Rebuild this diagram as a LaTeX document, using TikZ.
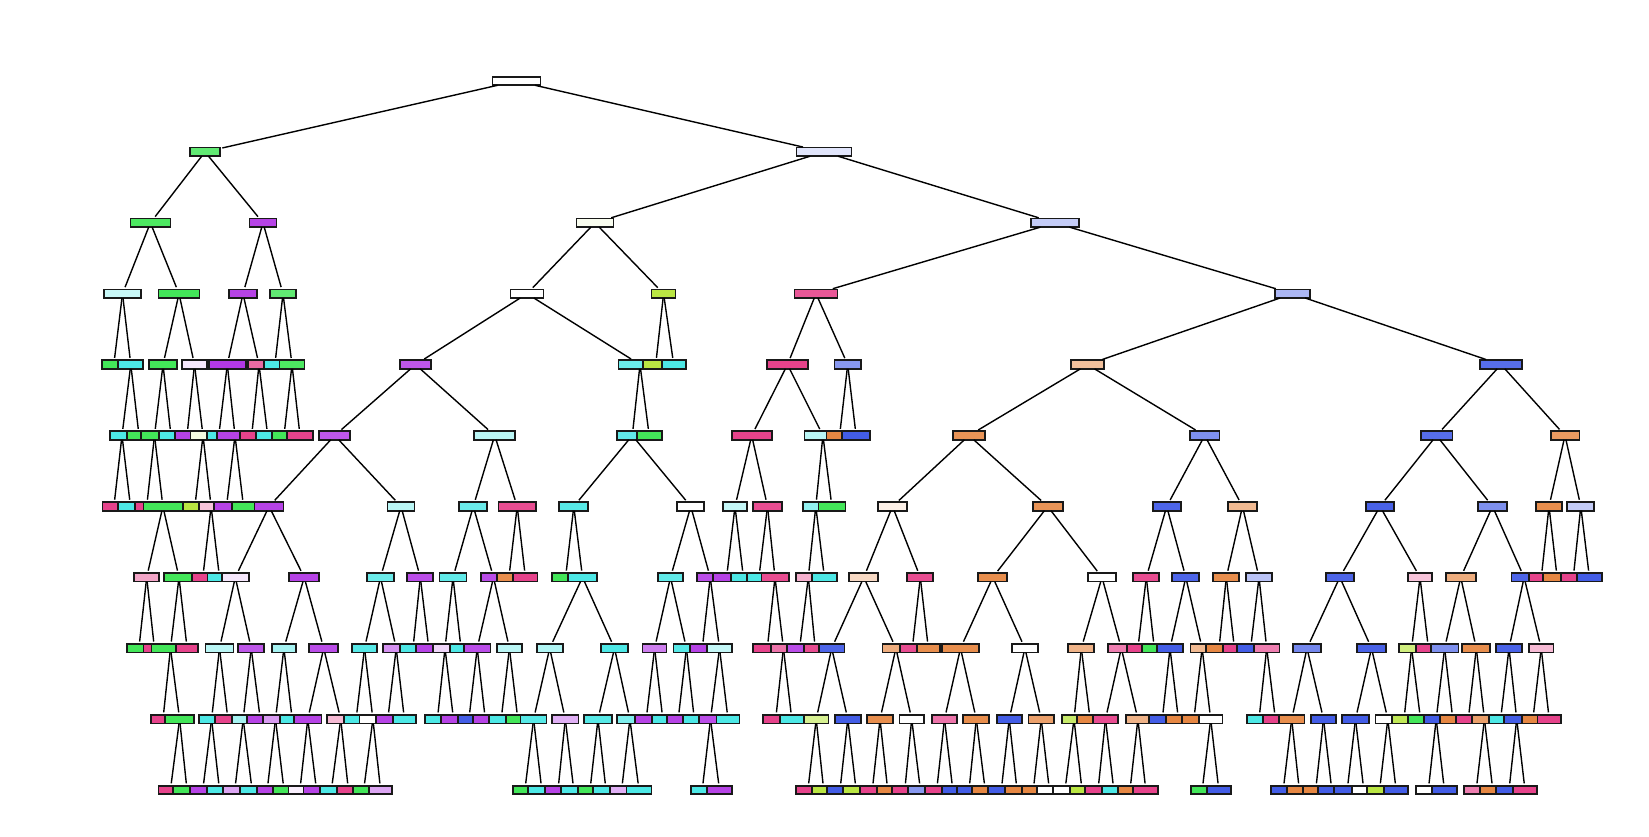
\documentclass[tikz,border=0pt]{standalone}
\definecolor{C0}{HTML}{E58139}
\definecolor{C1}{HTML}{B6E539}
\definecolor{C2}{HTML}{39E550}
\definecolor{C3}{HTML}{39E5E3}
\definecolor{C4}{HTML}{3954E5}
\definecolor{C5}{HTML}{B239E5}
\definecolor{C6}{HTML}{E53985}
\newcommand\mknode[6]{%
  \node[tbox, minimum width={#5*0.5pt}, fill=#6] (#1) at (#3,{81+70.9*#4}) {};
  \draw[tedge] (#2) -- (#1);}
\begin{document}
\begin{tikzpicture}[x=0.5pt,y=-0.5pt,
  tbox/.style={draw=black!90, line width=0.85pt, minimum height=4.3pt, inner sep=0pt, outer sep=0pt, rectangle},
  tedge/.style={line width=0.7pt, shorten >=1.2pt}]
\useasboundingbox (0,0) rectangle (1649,836);
\node[tbox, minimum width=24pt, fill=white] (r) at (516.4,81) {};
% level 1
\mknode{rL}{r}{205}{1}{30}{C2!80}
\mknode{rR}{r}{824}{1}{55}{C4!15}
% level 2
\mknode{rLL}{rL}{150.4}{2}{40}{C2!90}
\mknode{rLR}{rL}{263}{2}{27}{C5!95}
\mknode{rRL}{rR}{595}{2}{37}{C1!8}
\mknode{rRR}{rR}{1055}{2}{48}{C4!30}
% level 3
\mknode{rLLL}{rLL}{122.5}{3}{37}{C3!28}
\mknode{rLLR}{rLL}{179}{3}{41}{C2!95}
\mknode{rLRL}{rLR}{243}{3}{28}{C5!95}
\mknode{rLRR}{rLR}{283}{3}{26}{C2!80}
\mknode{rRLL}{rRL}{527}{3}{33}{white}
\mknode{rRLR}{rRL}{663.6}{3}{24}{C1!95}
\mknode{rRRL}{rRR}{816}{3}{43}{C6!85}
\mknode{rRRR}{rRR}{1292.5}{3}{35}{C4!42}
% level 4
\mknode{rLLLL}{rLLL}{113.8}{4}{24}{C2!95}
\mknode{rLLLR}{rLLL}{130.8}{4}{25}{C3!90}
\mknode{rLLRL}{rLLR}{163}{4}{28.6}{C2!95}
\mknode{rLLRR}{rLLR}{194.5}{4}{25}{C5!12}
\mknode{rLRLL}{rLRL}{227.3}{4}{37}{C5!100}
\mknode{rLRLR}{rLRL}{259}{4}{22}{C6!75}
\mknode{rLRRL}{rLRR}{274.9}{4}{22}{C3!90}
\mknode{rLRRR}{rLRR}{292}{4}{25}{C2!90}
\mknode{rRLLL}{rRLL}{415.5}{4}{31}{C5!85}
\mknode{rRLLR}{rRLL}{640}{4}{43}{C3!75}
\mknode{rRLRL}{rRLR}{655.7}{4}{25}{C1!95}
\mknode{rRLRR}{rRLR}{673.7}{4}{24}{C3!90}
\mknode{rRRLL}{rRRL}{787.5}{4}{41.6}{C6!95}
\mknode{rRRLR}{rRRL}{847.7}{4}{26.7}{C4!60}
\mknode{rRRRL}{rRRR}{1087.5}{4}{33.6}{C0!50}
\mknode{rRRRR}{rRRR}{1501}{4}{42}{C4!85}
% level 5
\mknode{rLLLRL}{rLLLR}{122}{5}{24}{C3!90}
\mknode{rLLLRR}{rLLLR}{139}{5}{24}{C2!95}
\mknode{rLLRLL}{rLLRL}{154.5}{5}{27.6}{C2!95}
\mknode{rLLRLR}{rLLRL}{171}{5}{24}{C3!90}
\mknode{rLLRRL}{rLLRR}{187}{5}{24}{C5!95}
\mknode{rLLRRR}{rLLRR}{203}{5}{25}{C1!15}
\mknode{rLRLLL}{rLRLL}{218.8}{5}{24}{C3!90}
\mknode{rLRLLR}{rLRLL}{235}{5}{36.6}{C5!95}
\mknode{rLRLRL}{rLRLR}{251.7}{5}{23.4}{C6!95}
\mknode{rLRLRR}{rLRLR}{267.7}{5}{23.4}{C3!90}
\mknode{rLRRRL}{rLRRR}{284}{5}{24.6}{C2!95}
\mknode{rLRRRR}{rLRRR}{300}{5}{25.6}{C6!95}
\mknode{rRLLLL}{rRLLL}{334.7}{5}{31}{C5!85}
\mknode{rRLLLR}{rRLLL}{494.7}{5}{41}{C3!35}
\mknode{rRLLRL}{rRLLR}{632.3}{5}{31}{C3!80}
\mknode{rRLLRR}{rRLLR}{649.2}{5}{25}{C2!95}
\mknode{rRRLLL}{rRRLL}{751.7}{5}{40}{C6!95}
\mknode{rRRLLR}{rRRLL}{822.9}{5}{37}{C3!35}
\mknode{rRRLRL}{rRRLR}{839.6}{5}{26}{C0!95}
\mknode{rRRLRR}{rRRLR}{856.1}{5}{27.6}{C4!95}
\mknode{rRRRLL}{rRRRL}{969}{5}{32}{C0!85}
\mknode{rRRRLR}{rRRRL}{1204.7}{5}{29.3}{C4!65}
\mknode{rRRRRL}{rRRRR}{1436.5}{5}{31.7}{C4!85}
\mknode{rRRRRR}{rRRRR}{1565}{5}{28.7}{C0!80}
% level 6
\mknode{rLLLRLL}{rLLLRL}{113.9}{6}{23}{C6!95}
\mknode{rLLLRLR}{rLLLRL}{130.5}{6}{24.4}{C3!90}
\mknode{rLLRLLL}{rLLRLL}{146.7}{6}{23.4}{C6!95}
\mknode{rLLRLLR}{rLLRLL}{162.9}{6}{39}{C2!95}
\mknode{rLLRRRL}{rLLRRR}{194.9}{6}{23}{C1!95}
\mknode{rLLRRRR}{rLLRRR}{211.1}{6}{24}{C6!30}
\mknode{rLRLLRL}{rLRLLR}{226.5}{6}{25}{C5!95}
\mknode{rLRLLRR}{rLRLLR}{243.5}{6}{23}{C2!95}
\mknode{rRLLLLL}{rRLLLL}{269.1}{6}{29}{C5!95}
\mknode{rRLLLLR}{rRLLLL}{401}{6}{27}{C3!35}
\mknode{rRLLLRL}{rRLLLR}{473.3}{6}{28}{C3!75}
\mknode{rRLLLRR}{rRLLLR}{517.2}{6}{37.7}{C6!90}
\mknode{rRLLRLL}{rRLLRL}{573.8}{6}{29}{C3!85}
\mknode{rRLLRLR}{rRLLRL}{690.8}{6}{27}{white}
\mknode{rRRLLLL}{rRRLLL}{735}{6}{24.6}{C3!30}
\mknode{rRRLLLR}{rRRLLL}{767.5}{6}{28.4}{C6!90}
\mknode{rRRLLRL}{rRRLLR}{815.8}{6}{26}{C3!55}
\mknode{rRRLLRR}{rRRLLR}{831.9}{6}{27}{C2!95}
\mknode{rRRRLLL}{rRRRLL}{892.5}{6}{28.4}{C0!12}
\mknode{rRRRLLR}{rRRRLL}{1047.7}{6}{30}{C0!85}
\mknode{rRRRLRL}{rRRRLR}{1166.7}{6}{28}{C4!90}
\mknode{rRRRLRR}{rRRRLR}{1242.5}{6}{28.4}{C0!55}
\mknode{rRRRRLL}{rRRRRL}{1380}{6}{28.6}{C4!92}
\mknode{rRRRRLR}{rRRRRL}{1492.5}{6}{29.6}{C4!65}
\mknode{rRRRRRL}{rRRRRR}{1549}{6}{26.6}{C0!90}
\mknode{rRRRRRR}{rRRRRR}{1580.8}{6}{27}{C4!30}
% level 7
\mknode{rLLRLLRL}{rLLRLLR}{146.7}{7}{25}{C6!45}
\mknode{rLLRLLRR}{rLLRLLR}{179}{7}{30}{C2!95}
\mknode{rLLRRRRL}{rLLRRRR}{202.8}{7}{22}{C6!95}
\mknode{rLLRRRRR}{rLLRRRR}{219.5}{7}{24}{C3!90}
\mknode{rRLLLLLL}{rRLLLLL}{235.3}{7}{27}{C5!12}
\mknode{rRLLLLLR}{rRLLLLL}{304.2}{7}{30}{C5!95}
\mknode{rRLLLLRL}{rRLLLLR}{380.5}{7}{27.6}{C3!75}
\mknode{rRLLLLRR}{rRLLLLR}{420.3}{7}{26}{C5!90}
\mknode{rRLLLRLL}{rRLLLRL}{453}{7}{27}{C3!80}
\mknode{rRLLLRLR}{rRLLLRL}{493.5}{7}{25.6}{C5!90}
\mknode{rRLLLRRL}{rRLLLRR}{508.9}{7}{24.4}{C0!90}
\mknode{rRLLLRRR}{rRLLLRR}{525.4}{7}{24.2}{C6!95}
\mknode{rRLLRLLL}{rRLLRLL}{565.6}{7}{26.6}{C2!95}
\mknode{rRLLRLLR}{rRLLRLL}{582.5}{7}{28.4}{C3!90}
\mknode{rRLLRLRL}{rRLLRLR}{670.5}{7}{25.6}{C3!80}
\mknode{rRLLRLRR}{rRLLRLR}{710.2}{7}{26}{C5!90}
\mknode{rRRLLLLL}{rRRLLLL}{726.6}{7}{26.6}{C5!95}
\mknode{rRRLLLLR}{rRRLLLL}{743.4}{7}{25.4}{C3!90}
\mknode{rRRLLLRL}{rRRLLLR}{758.9}{7}{23.2}{C3!90}
\mknode{rRRLLLRR}{rRRLLLR}{775}{7}{27.3}{C6!90}
\mknode{rRRLLRLL}{rRRLLRL}{808.3}{7}{25.2}{C6!40}
\mknode{rRRLLRLR}{rRRLLRL}{824.4}{7}{25.4}{C3!90}
\mknode{rRRRLLLL}{rRRRLLL}{863.8}{7}{29}{C0!30}
\mknode{rRRRLLLR}{rRRRLLL}{920.3}{7}{26}{C6!90}
\mknode{rRRRLLRL}{rRRRLLR}{992.8}{7}{29}{C0!90}
\mknode{rRRRLLRR}{rRRRLLR}{1102}{7}{27.4}{white}
\mknode{rRRRLRLL}{rRRRLRL}{1146.3}{7}{26}{C6!90}
\mknode{rRRRLRLR}{rRRRLRL}{1185.8}{7}{27}{C4!90}
\mknode{rRRRLRRL}{rRRRLRR}{1226.3}{7}{26}{C0!90}
\mknode{rRRRLRRR}{rRRRLRR}{1259}{7}{26.6}{C4!35}
\mknode{rRRRRLLL}{rRRRRLL}{1339.8}{7}{28}{C4!90}
\mknode{rRRRRLLR}{rRRRRLL}{1420}{7}{24.6}{C6!30}
\mknode{rRRRRLRL}{rRRRRLR}{1460.7}{7}{30}{C0!65}
\mknode{rRRRRLRR}{rRRRRLR}{1524.1}{7}{25}{C4!90}
\mknode{rRRRRRLL}{rRRRRRL}{1541.3}{7}{24.6}{C6!95}
\mknode{rRRRRRLR}{rRRRRRL}{1557.1}{7}{27.6}{C0!95}
\mknode{rRRRRRRL}{rRRRRRR}{1573.3}{7}{25}{C6!95}
\mknode{rRRRRRRR}{rRRRRRR}{1589.4}{7}{25.4}{C4!95}
% level 8
\mknode{rLLRLLRLL}{rLLRLLRL}{138.9}{8}{24.4}{C2!95}
\mknode{rLLRLLRLR}{rLLRLLRL}{154.4}{8}{22}{C6!95}
\mknode{rLLRLLRRL}{rLLRLLRR}{170.5}{8}{38}{C2!95}
\mknode{rLLRLLRRR}{rLLRLLRR}{187.1}{8}{22}{C6!95}
\mknode{rRLLLLLLL}{rRLLLLLL}{219.5}{8}{28}{C3!35}
\mknode{rRLLLLLLR}{rRLLLLLL}{251.2}{8}{26}{C5!85}
\mknode{rRLLLLLRL}{rRLLLLLR}{283.9}{8}{24.4}{C3!45}
\mknode{rRLLLLLRR}{rRLLLLLR}{323.7}{8}{29}{C5!90}
\mknode{rRLLLLRLL}{rRLLLLRL}{364.5}{8}{25.6}{C3!85}
\mknode{rRLLLLRLR}{rRLLLLRL}{396.2}{8}{26}{C5!55}
\mknode{rRLLLLRRL}{rRLLLLRR}{413}{8}{26}{C3!90}
\mknode{rRLLLLRRR}{rRLLLLRR}{428.8}{8}{25.6}{C5!95}
\mknode{rRLLLRLLL}{rRLLLRLL}{445}{8}{24.6}{C5!20}
\mknode{rRLLLRLLR}{rRLLLRLL}{461}{8}{22}{C3!90}
\mknode{rRLLLRLRL}{rRLLLRLR}{477.2}{8}{26.4}{C5!90}
\mknode{rRLLLRLRR}{rRLLLRLR}{509.4}{8}{25.4}{C3!35}
\mknode{rRLLRLLRL}{rRLLRLLR}{549.7}{8}{26}{C3!40}
\mknode{rRLLRLLRR}{rRLLRLLR}{614.5}{8}{27.6}{C3!90}
\mknode{rRLLRLRLL}{rRLLRLRL}{654.6}{8}{24}{C5!65}
\mknode{rRLLRLRLR}{rRLLRLRL}{686.4}{8}{26}{C3!85}
\mknode{rRLLRLRRL}{rRLLRLRR}{702.3}{8}{24.6}{C5!95}
\mknode{rRLLRLRRR}{rRLLRLRR}{719.5}{8}{25.6}{C3!30}
\mknode{rRRLLLRRL}{rRRLLLRR}{767.3}{8}{28}{C6!95}
\mknode{rRRLLLRRR}{rRRLLLRR}{783.4}{8}{25.4}{C6!70}
\mknode{rRRLLRLLL}{rRRLLRLL}{799.6}{8}{24.6}{C5!90}
\mknode{rRRLLRLLR}{rRRLLRLL}{815.2}{8}{22.4}{C6!90}
\mknode{rRRRLLLLL}{rRRRLLLL}{831.7}{8}{25.3}{C4!90}
\mknode{rRRRLLLLR}{rRRRLLLL}{895.9}{8}{27}{C0!65}
\mknode{rRRRLLLRL}{rRRRLLLR}{912.3}{8}{24.6}{C6!90}
\mknode{rRRRLLLRR}{rRRRLLLR}{928.3}{8}{23.2}{C0!90}
\mknode{rRRRLLRLL}{rRRRLLRL}{960.5}{8}{37.6}{C0!90}
\mknode{rRRRLLRLR}{rRRRLLRL}{1024.9}{8}{26.4}{white}
\mknode{rRRRLLRRL}{rRRRLLRR}{1081.3}{8}{26}{C0!60}
\mknode{rRRRLLRRR}{rRRRLLRR}{1121.3}{8}{26}{C6!65}
\mknode{rRRRLRLLL}{rRRRLRLL}{1137.9}{8}{22.4}{C6!95}
\mknode{rRRRLRLLR}{rRRRLRLL}{1154.3}{8}{25}{C2!95}
\mknode{rRRRLRLRL}{rRRRLRLR}{1170}{8}{26.6}{C4!95}
\mknode{rRRRLRLRR}{rRRRLRLR}{1202.1}{8}{23}{C0!55}
\mknode{rRRRLRRLL}{rRRRLRRL}{1219}{8}{26}{C0!95}
\mknode{rRRRLRRLR}{rRRRLRRL}{1234.4}{8}{23.4}{C6!95}
\mknode{rRRRLRRRL}{rRRRLRRR}{1250.6}{8}{26.6}{C4!95}
\mknode{rRRRLRRRR}{rRRRLRRR}{1266.7}{8}{25.3}{C6!65}
\mknode{rRRRRLLLL}{rRRRRLLL}{1307}{8}{27.4}{C4!70}
\mknode{rRRRRLLLR}{rRRRRLLL}{1371.5}{8}{28.4}{C4!92}
\mknode{rRRRRLLRL}{rRRRRLLR}{1411.6}{8}{24.6}{C1!65}
\mknode{rRRRRLLRR}{rRRRRLLR}{1428.4}{8}{24.8}{C6!95}
\mknode{rRRRRLRLL}{rRRRRLRL}{1444.6}{8}{27.8}{C4!65}
\mknode{rRRRRLRLR}{rRRRRLRL}{1476.3}{8}{28}{C0!90}
\mknode{rRRRRLRRL}{rRRRRLRR}{1509}{8}{26.6}{C4!92}
\mknode{rRRRRLRRR}{rRRRRLRR}{1541.2}{8}{24.4}{C6!35}
% level 9
\mknode{rLLRLLRRLL}{rLLRLLRRL}{163}{9}{24}{C6!95}
\mknode{rLLRLLRRLR}{rLLRLLRRL}{179.6}{9}{29}{C2!95}
\mknode{rRLLLLLLLL}{rRLLLLLLL}{211.6}{9}{25}{C3!90}
\mknode{rRLLLLLLLR}{rRLLLLLLL}{227.9}{9}{26}{C6!95}
\mknode{rRLLLLLLRL}{rRLLLLLLR}{243.2}{9}{23}{C3!45}
\mknode{rRLLLLLLRR}{rRLLLLLLR}{260.3}{9}{26}{C5!95}
\mknode{rRLLLLLRLL}{rRLLLLLRL}{275.5}{9}{24.4}{C5!50}
\mknode{rRLLLLLRLR}{rRLLLLLRL}{292.2}{9}{24.4}{C3!90}
\mknode{rRLLLLLRRL}{rRLLLLLRR}{307.8}{9}{27.6}{C5!95}
\mknode{rRLLLLLRRR}{rRLLLLLRR}{340.7}{9}{27}{C6!35}
\mknode{rRLLLLRLLL}{rRLLLLRLL}{356.1}{9}{24}{C3!90}
\mknode{rRLLLLRLLR}{rRLLLLRLL}{372.9}{9}{27}{white}
\mknode{rRLLLLRLRL}{rRLLLLRLR}{387.8}{9}{23.6}{C5!95}
\mknode{rRLLLLRLRR}{rRLLLLRLR}{404.4}{9}{23.4}{C3!90}
\mknode{rRLLLRLLLL}{rRLLLRLLL}{437.4}{9}{24.8}{C3!90}
\mknode{rRLLLRLLLR}{rRLLLRLLL}{453.5}{9}{25}{C5!95}
\mknode{rRLLLRLRLL}{rRLLLRLRL}{468.9}{9}{22.4}{C4!95}
\mknode{rRLLLRLRLR}{rRLLLRLRL}{485.3}{9}{24}{C5!95}
\mknode{rRLLLRLRRL}{rRLLLRLRR}{501.2}{9}{24.4}{C3!90}
\mknode{rRLLLRLRRR}{rRLLLRLRR}{517.8}{9}{23.6}{C2!95}
\mknode{rRLLRLLRLL}{rRLLRLLRL}{533.6}{9}{26}{C3!85}
\mknode{rRLLRLLRLR}{rRLLRLLRL}{565.3}{9}{26.6}{C5!40}
\mknode{rRLLRLLRRL}{rRLLRLLRR}{598}{9}{27.4}{C3!85}
\mknode{rRLLRLLRRR}{rRLLRLLRR}{629.9}{9}{26.4}{C3!65}
\mknode{rRLLRLRLLL}{rRLLRLRLL}{646.2}{9}{22.4}{C5!95}
\mknode{rRLLRLRLLR}{rRLLRLRLL}{662.8}{9}{22.2}{C3!90}
\mknode{rRLLRLRLRL}{rRLLRLRLR}{678.2}{9}{23}{C5!95}
\mknode{rRLLRLRLRR}{rRLLRLRLR}{694.3}{9}{23.2}{C3!90}
\mknode{rRLLRLRRRL}{rRLLRLRRR}{710.5}{9}{22.4}{C5!90}
\mknode{rRLLRLRRRR}{rRLLRLRRR}{728}{9}{23}{C3!90}
\mknode{rRRLLLRRRL}{rRRLLLRRR}{775.7}{9}{26}{C6!95}
\mknode{rRRLLLRRRR}{rRRLLLRRR}{791.8}{9}{23.6}{C3!90}
\mknode{rRRRLLLLLL}{rRRRLLLLL}{816.2}{9}{24.3}{C1!55}
\mknode{rRRRLLLLLR}{rRRRLLLLL}{847.8}{9}{25.7}{C4!95}
\mknode{rRRRLLLLRL}{rRRRLLLLR}{880}{9}{26.6}{C0!90}
\mknode{rRRRLLLLRR}{rRRRLLLLR}{911.7}{9}{24.7}{white}
\mknode{rRRRLLRLLL}{rRRRLLRLL}{944.5}{9}{24.4}{C6!70}
\mknode{rRRRLLRLLR}{rRRRLLRLL}{976.3}{9}{26}{C0!90}
\mknode{rRRRLLRLRL}{rRRRLLRLR}{1009.2}{9}{25}{C4!95}
\mknode{rRRRLLRLRR}{rRRRLLRLR}{1041.2}{9}{25.7}{C0!75}
\mknode{rRRRLLRRLL}{rRRRLLRRL}{1074}{9}{24.6}{C1!75}
\mknode{rRRRLLRRLR}{rRRRLLRRL}{1090.1}{9}{25.6}{C0!95}
\mknode{rRRRLLRRRL}{rRRRLLRRR}{1105.5}{9}{25.6}{C6!90}
\mknode{rRRRLLRRRR}{rRRRLLRRR}{1137.9}{9}{24.3}{C0!60}
\mknode{rRRRLRLRLL}{rRRRLRLRL}{1162.3}{9}{26}{C4!95}
\mknode{rRRRLRLRLR}{rRRRLRLRL}{1178.4}{9}{25.4}{C0!95}
\mknode{rRRRLRLRRL}{rRRRLRLRR}{1193.9}{9}{24.4}{C0!95}
\mknode{rRRRLRLRRR}{rRRRLRLRR}{1210.7}{9}{23.3}{white}
\mknode{rRRRLRRRRL}{rRRRLRRRR}{1259}{9}{24.6}{C3!90}
\mknode{rRRRLRRRRR}{rRRRLRRRR}{1275.4}{9}{24.2}{C6!95}
\mknode{rRRRRLLLLL}{rRRRRLLLL}{1291.7}{9}{25.3}{C0!90}
\mknode{rRRRRLLLLR}{rRRRRLLLL}{1323.5}{9}{25}{C4!95}
\mknode{rRRRRLLLRL}{rRRRRLLLR}{1355.5}{9}{27.6}{C4!95}
\mknode{rRRRRLLLRR}{rRRRRLLLR}{1387.8}{9}{24.4}{white}
\mknode{rRRRRLLRLL}{rRRRRLLRL}{1404}{9}{24.6}{C1!85}
\mknode{rRRRRLLRLR}{rRRRRLLRL}{1420.5}{9}{25.6}{C2!95}
\mknode{rRRRRLRLLL}{rRRRRLRLL}{1436.2}{9}{24.4}{C4!95}
\mknode{rRRRRLRLLR}{rRRRRLRLL}{1452.8}{9}{25.6}{C0!95}
\mknode{rRRRRLRLRL}{rRRRRLRLR}{1468.3}{9}{24.6}{C6!95}
\mknode{rRRRRLRLRR}{rRRRRLRLR}{1484.4}{9}{25.4}{C0!75}
\mknode{rRRRRLRRLL}{rRRRRLRRL}{1500.6}{9}{23.2}{C3!90}
\mknode{rRRRRLRRLR}{rRRRRLRRL}{1516.7}{9}{25.4}{C4!95}
\mknode{rRRRRLRRRL}{rRRRRLRRR}{1532.9}{9}{22.4}{C0!95}
\mknode{rRRRRLRRRR}{rRRRRLRRR}{1549.2}{9}{23.7}{C6!95}
% level 10
\mknode{rLLRLLRRLRL}{rLLRLLRRLR}{170.4}{10}{24}{C6!95}
\mknode{rLLRLLRRLRR}{rLLRLLRRLR}{187}{10}{28.6}{C2!95}
\mknode{rRLLLLLLLLL}{rRLLLLLLLL}{202.8}{10}{25.6}{C5!95}
\mknode{rRLLLLLLLLR}{rRLLLLLLLL}{219.5}{10}{25.6}{C3!90}
\mknode{rRLLLLLLRLL}{rRLLLLLLRL}{234.8}{10}{23}{C5!45}
\mknode{rRLLLLLLRLR}{rRLLLLLLRL}{252.1}{10}{24}{C3!90}
\mknode{rRLLLLLRLLL}{rRLLLLLRLL}{267.2}{10}{21}{C5!95}
\mknode{rRLLLLLRLLR}{rRLLLLLRLL}{284}{10}{22.6}{C2!95}
\mknode{rRLLLLLRRLL}{rRLLLLLRRL}{299.9}{10}{23}{C5!8}
\mknode{rRLLLLLRRLR}{rRLLLLLRRL}{316.5}{10}{26}{C5!95}
\mknode{rRLLLLLRRRL}{rRLLLLLRRR}{331.4}{10}{23}{C3!90}
\mknode{rRLLLLLRRRR}{rRLLLLLRRR}{348.4}{10}{23.4}{C6!95}
\mknode{rRLLLLRLLRL}{rRLLLLRLLR}{363.7}{10}{21}{C2!95}
\mknode{rRLLLLRLLRR}{rRLLLLRLLR}{380.6}{10}{22.6}{C5!45}
\mknode{rRLLRLLRLLL}{rRLLRLLRLL}{524.9}{10}{23.2}{C2!95}
\mknode{rRLLRLLRLLR}{rRLLRLLRLL}{541.8}{10}{27}{C3!90}
\mknode{rRLLRLLRLRL}{rRLLRLLRLR}{558}{10}{26}{C5!95}
\mknode{rRLLRLLRLRR}{rRLLRLLRLR}{573.8}{10}{26.2}{C3!90}
\mknode{rRLLRLLRRLL}{rRLLRLLRRL}{590}{10}{24.6}{C2!95}
\mknode{rRLLRLLRRLR}{rRLLRLLRRL}{606}{10}{26}{C3!90}
\mknode{rRLLRLLRRRL}{rRLLRLLRRR}{621.6}{10}{23}{C5!40}
\mknode{rRLLRLLRRRR}{rRLLRLLRRR}{639}{10}{25}{C3!90}
\mknode{rRLLRLRRRLL}{rRLLRLRRRL}{702.2}{10}{22.4}{C3!90}
\mknode{rRLLRLRRRLR}{rRLLRLRRRL}{719.5}{10}{25.6}{C5!95}
\mknode{rRRRLLLLLLL}{rRRRLLLLLL}{807.9}{10}{24}{C6!95}
\mknode{rRRRLLLLLLR}{rRRRLLLLLL}{823.7}{10}{24}{C1!95}
\mknode{rRRRLLLLLRL}{rRRRLLLLLR}{840}{10}{25.4}{C4!95}
\mknode{rRRRLLLLLRR}{rRRRLLLLLR}{856.1}{10}{25.6}{C1!95}
\mknode{rRRRLLLLRLL}{rRRRLLLLRL}{872.3}{10}{24.6}{C6!95}
\mknode{rRRRLLLLRLR}{rRRRLLLLRL}{887.7}{10}{22}{C0!95}
\mknode{rRRRLLLLRRL}{rRRRLLLLRR}{904.8}{10}{26}{C6!95}
\mknode{rRRRLLLLRRR}{rRRRLLLLRR}{920.4}{10}{24.2}{C4!60}
\mknode{rRRRLLRLLLL}{rRRRLLRLLL}{936.7}{10}{23.4}{C6!95}
\mknode{rRRRLLRLLLR}{rRRRLLRLLL}{952.8}{10}{22}{C4!95}
\mknode{rRRRLLRLLRL}{rRRRLLRLLR}{969}{10}{24.6}{C4!95}
\mknode{rRRRLLRLLRR}{rRRRLLRLLR}{985.2}{10}{27}{C0!95}
\mknode{rRRRLLRLRLL}{rRRRLLRLRL}{1001.3}{10}{26}{C4!95}
\mknode{rRRRLLRLRLR}{rRRRLLRLRL}{1017}{10}{24}{C0!95}
\mknode{rRRRLLRLRRL}{rRRRLLRLRR}{1033.3}{10}{23.2}{C0!95}
\mknode{rRRRLLRLRRR}{rRRRLLRLRR}{1049.4}{10}{25.4}{white}
\mknode{rRRRLLRRLLL}{rRRRLLRRLL}{1065}{10}{23.4}{white}
\mknode{rRRRLLRRLLR}{rRRRLLRRLL}{1082}{10}{24}{C1!95}
\mknode{rRRRLLRRRLL}{rRRRLLRRRL}{1098}{10}{26}{C6!95}
\mknode{rRRRLLRRRLR}{rRRRLLRRRL}{1113.8}{10}{24}{C3!90}
\mknode{rRRRLLRRRRL}{rRRRLLRRRR}{1130}{10}{23.4}{C0!95}
\mknode{rRRRLLRRRRR}{rRRRLLRRRR}{1145.8}{10}{25}{C6!95}
\mknode{rRRRLRLRRRL}{rRRRLRLRRR}{1202.2}{10}{23}{C2!95}
\mknode{rRRRLRLRRRR}{rRRRLRLRRR}{1218.8}{10}{24.3}{C4!95}
\mknode{rRRRRLLLLLL}{rRRRRLLLLL}{1283.2}{10}{25}{C4!95}
\mknode{rRRRRLLLLLR}{rRRRRLLLLL}{1299.3}{10}{25}{C0!95}
\mknode{rRRRRLLLLRL}{rRRRRLLLLR}{1315.7}{10}{26}{C0!95}
\mknode{rRRRRLLLLRR}{rRRRRLLLLR}{1331.8}{10}{27}{C4!95}
\mknode{rRRRRLLLRLL}{rRRRRLLLRL}{1347.2}{10}{26.4}{C4!95}
\mknode{rRRRRLLLRLR}{rRRRRLLLRL}{1363.8}{10}{24.2}{white}
\mknode{rRRRRLLLRRL}{rRRRRLLLRR}{1379.6}{10}{24.6}{C1!95}
\mknode{rRRRRLLLRRR}{rRRRRLLLRR}{1396.1}{10}{24.2}{C4!95}
\mknode{rRRRRLRLLLL}{rRRRRLRLLL}{1428.3}{10}{24.6}{white}
\mknode{rRRRRLRLLLR}{rRRRRLRLLL}{1444.4}{10}{25.4}{C4!95}
\mknode{rRRRRLRLRRL}{rRRRRLRLRR}{1476.2}{10}{23.8}{C6!65}
\mknode{rRRRRLRLRRR}{rRRRRLRLRR}{1492.8}{10}{25.6}{C0!95}
\mknode{rRRRRLRRLRL}{rRRRRLRRLR}{1509}{10}{26.6}{C4!95}
\mknode{rRRRRLRRLRR}{rRRRRLRRLR}{1525}{10}{24.6}{C6!95}
\end{tikzpicture}
\end{document}
